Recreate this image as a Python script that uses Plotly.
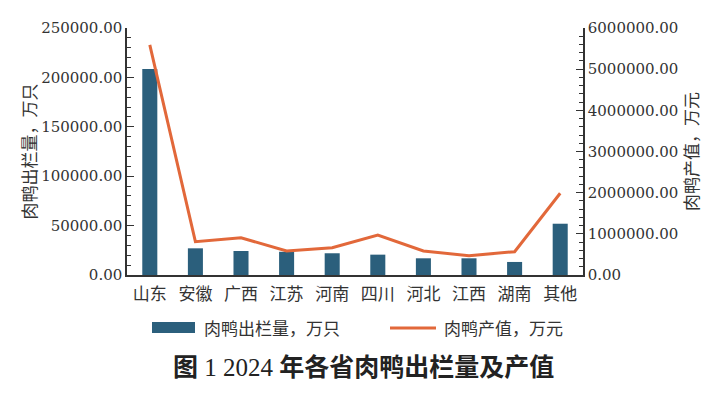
import plotly.graph_objects as go

provinces = ["山东", "安徽", "广西", "江苏", "河南", "四川", "河北", "江西", "湖南", "其他"]
output_wan_head = [208500, 27000, 24300, 23500, 22000, 20600, 16900, 16900, 13200, 51900]
value_wan_yuan = [5590000, 809000, 906000, 583000, 663000, 972000, 583000, 470000, 566000, 1985000]

bar_name = "肉鸭出栏量，万只"
line_name = "肉鸭产值，万元"
title_prefix = "图"
title_year = "1 2024"
title_main = "年各省肉鸭出栏量及产值"

BAR_COLOR = "#2b5f7c"
LINE_COLOR = "#e2683a"
TEXT_COLOR = "#333333"
AXIS_COLOR = "#333333"
NUM_FONT = "DejaVu Serif, Noto Sans CJK SC"
CJK_FONT = "Noto Sans CJK SC, DejaVu Serif"

fig = go.Figure()
fig.add_trace(go.Bar(x=provinces, y=output_wan_head, name=bar_name,
                     marker=dict(color=BAR_COLOR, line=dict(width=0)),
                     yaxis="y", showlegend=False))
fig.add_trace(go.Scatter(x=provinces, y=value_wan_yuan, name=line_name, mode="lines",
                         line=dict(color=LINE_COLOR, width=3),
                         yaxis="y2", showlegend=False))

fig.update_layout(
    width=725, height=395,
    margin=dict(l=127, r=142, t=28, b=120, autoexpand=False),
    paper_bgcolor="white", plot_bgcolor="white",
    bargap=0.67,
    font=dict(family=NUM_FONT, color=TEXT_COLOR),
    xaxis=dict(showline=True, linecolor=AXIS_COLOR, linewidth=1.5, ticks="",
               ticklabelstandoff=3,
               tickfont=dict(family=CJK_FONT, size=17, color=TEXT_COLOR),
               showgrid=False, zeroline=False, automargin=False),
    yaxis=dict(range=[0, 250000], dtick=50000, tickformat=".2f",
               showline=True, linecolor=AXIS_COLOR, linewidth=1.5,
               ticks="inside", ticklen=7, tickcolor=AXIS_COLOR, tickwidth=1.2,
               minor=dict(dtick=10000, ticks="inside", ticklen=4, tickcolor=AXIS_COLOR, tickwidth=1),
               showgrid=False, zeroline=False, automargin=True,
               tickfont=dict(family=NUM_FONT, size=15, color=TEXT_COLOR),
               title=dict(text=bar_name, font=dict(family=CJK_FONT, size=17, color=TEXT_COLOR), standoff=0)),
    yaxis2=dict(range=[0, 6000000], dtick=1000000, tickformat=".2f",
                overlaying="y", side="right", anchor="x",
                showline=True, linecolor=AXIS_COLOR, linewidth=1.5,
                ticks="inside", ticklen=7, tickcolor=AXIS_COLOR, tickwidth=1.2,
                minor=dict(dtick=200000, ticks="inside", ticklen=4, tickcolor=AXIS_COLOR, tickwidth=1),
                showgrid=False, zeroline=False, automargin=True,
                tickfont=dict(family=NUM_FONT, size=15, color=TEXT_COLOR),
                title=dict(text=line_name, font=dict(family=CJK_FONT, size=17, color=TEXT_COLOR), standoff=6)),
)

# Legend drawn manually (wide swatches as in the reference)
fig.add_shape(type="rect", xref="paper", yref="paper",
              x0=(152 - 127) / 456, x1=(195 - 127) / 456,
              y0=(275 - 333) / 247, y1=(275 - 322) / 247,
              fillcolor=BAR_COLOR, line=dict(width=0))
fig.add_annotation(xref="paper", yref="paper", x=(202 - 127) / 456, y=(275 - 327) / 247,
                   text=bar_name, showarrow=False, xanchor="left", yanchor="middle",
                   font=dict(family=CJK_FONT, size=17, color=TEXT_COLOR))
fig.add_shape(type="line", xref="paper", yref="paper",
              x0=(390 - 127) / 456, x1=(436 - 127) / 456,
              y0=(275 - 328) / 247, y1=(275 - 328) / 247,
              line=dict(color=LINE_COLOR, width=3))
fig.add_annotation(xref="paper", yref="paper", x=(442 - 127) / 456, y=(275 - 327) / 247,
                   text=line_name, showarrow=False, xanchor="left", yanchor="middle",
                   font=dict(family=CJK_FONT, size=17, color=TEXT_COLOR))
# Caption
caption = "<b>" + title_prefix + "</b> " + title_year + " <b>" + title_main + "</b>"
fig.add_annotation(xref="paper", yref="paper", x=(363 - 127) / 456, y=(275 - 367) / 247,
                   text=caption, showarrow=False, xanchor="center", yanchor="middle",
                   font=dict(family="Liberation Serif, Noto Sans CJK SC", size=25, color="#222222"))

fig.write_html("out.html", config={"displayModeBar": False},
               post_script="document.body.style.margin='0';document.body.style.overflow='hidden';")
